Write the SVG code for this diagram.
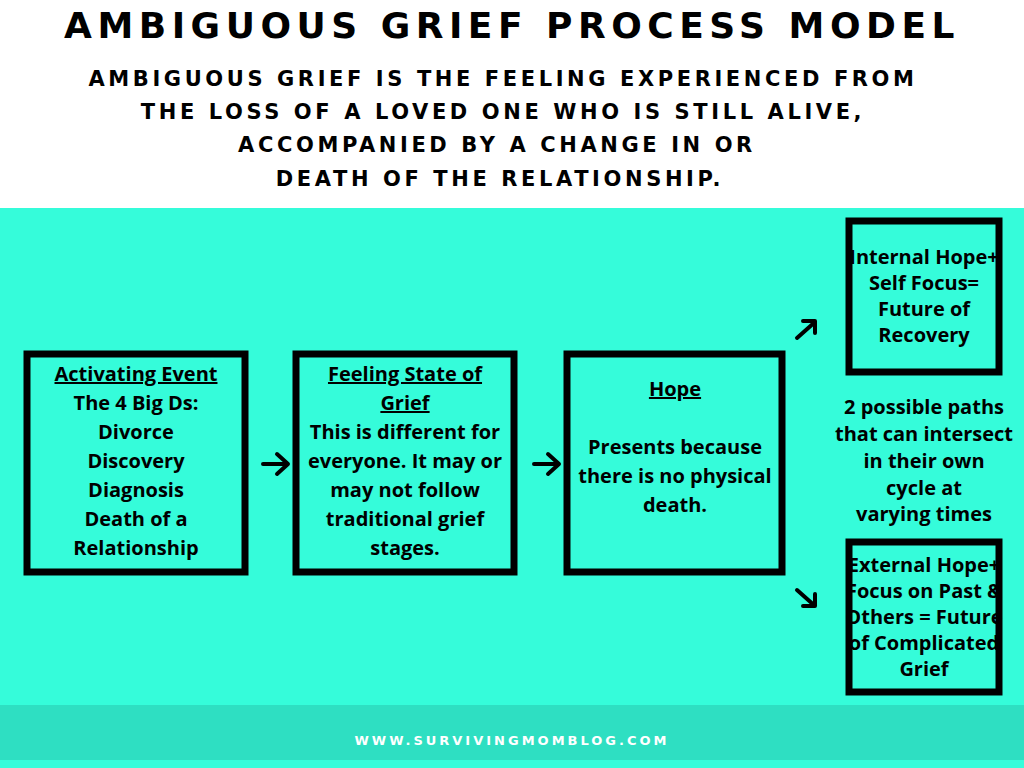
<svg xmlns="http://www.w3.org/2000/svg" width="1024" height="768" viewBox="0 0 1024 768">
<style>
.t{font-family:"DejaVu Sans","Liberation Sans",sans-serif;font-weight:bold;fill:#000;text-anchor:middle}
.b{font-family:"Open Sans","Liberation Sans",sans-serif;font-weight:bold;font-size:20px;fill:#000;text-anchor:middle}
.box{fill:none;stroke:#000;stroke-width:7}
.ar{fill:none;stroke:#000;stroke-width:4;stroke-linecap:round;stroke-linejoin:round}
</style>
<rect width="1024" height="768" fill="#fff"/>
<rect y="208" width="1024" height="497" fill="#35FCDA"/>
<rect y="705" width="1024" height="55" fill="#2EDFC2"/>
<rect y="760" width="1024" height="8" fill="#35FCDA"/>
<text class="t" x="512" y="38" font-size="36" letter-spacing="5.5">AMBIGUOUS GRIEF PROCESS MODEL</text>
<g class="t" font-size="21" letter-spacing="3.6">
<text x="503" y="86">AMBIGUOUS GRIEF IS THE FEELING EXPERIENCED FROM</text>
<text x="503" y="119">THE LOSS OF A LOVED ONE WHO IS STILL ALIVE,</text>
<text x="497" y="152">ACCOMPANIED BY A CHANGE IN OR</text>
<text x="500" y="186">DEATH OF THE RELATIONSHIP.</text>
</g>
<text class="t" x="512" y="745" font-size="13" letter-spacing="3" fill="#fff" style="fill:#fff">WWW.SURVIVINGMOMBLOG.COM</text>
<g id="node1"><rect class="box" x="27" y="354" width="218" height="218"/>
<text class="b" x="136" y="381" text-decoration="underline">Activating Event</text>
<text class="b" x="136" y="410">The 4 Big Ds:</text>
<text class="b" x="136" y="439">Divorce</text>
<text class="b" x="136" y="468">Discovery</text>
<text class="b" x="136" y="497">Diagnosis</text>
<text class="b" x="136" y="526">Death of a</text>
<text class="b" x="136" y="555">Relationship</text></g>
<g id="node2"><rect class="box" x="296" y="354" width="218" height="218"/>
<text class="b" x="405" y="381" text-decoration="underline">Feeling State of </text>
<text class="b" x="405" y="410" text-decoration="underline">Grief</text>
<text class="b" x="405" y="439">This is different for</text>
<text class="b" x="405" y="468">everyone. It may or</text>
<text class="b" x="405" y="497">may not follow</text>
<text class="b" x="405" y="526">traditional grief</text>
<text class="b" x="405" y="555">stages.</text></g>
<g id="node3"><rect class="box" x="567" y="354" width="215" height="218"/>
<text class="b" x="675" y="396" text-decoration="underline">Hope</text>
<text class="b" x="675" y="454">Presents because</text>
<text class="b" x="675" y="483">there is no physical</text>
<text class="b" x="675" y="512">death.</text></g>
<g id="node4"><rect class="box" x="849" y="221" width="150" height="151"/>
<text class="b" x="924" y="264" font-size="19">Internal Hope+</text>
<text class="b" x="924" y="290" font-size="19">Self Focus=</text>
<text class="b" x="924" y="316" font-size="19">Future of</text>
<text class="b" x="924" y="342" font-size="19">Recovery</text></g>
<g id="node5"><rect class="box" x="849" y="542" width="150" height="150"/>
<text class="b" x="924" y="572" font-size="19">External Hope+</text>
<text class="b" x="924" y="598" font-size="19">Focus on Past &amp;</text>
<text class="b" x="924" y="624" font-size="19">Others = Future</text>
<text class="b" x="924" y="650" font-size="19">of Complicated</text>
<text class="b" x="924" y="676" font-size="19">Grief</text></g>
<g id="label">
<text class="b" x="924" y="414" font-size="19">2 possible paths</text>
<text class="b" x="924" y="441" font-size="19">that can intersect</text>
<text class="b" x="924" y="468" font-size="19">in their own</text>
<text class="b" x="924" y="495" font-size="19">cycle at</text>
<text class="b" x="924" y="521" font-size="19">varying times</text></g>
<g id="connectors">
<path class="ar" d="M263 464H287M277 454L288 464L277 474"/>
<path class="ar" d="M534 464H558M548 454L559 464L548 474"/>
<path class="ar" d="M797 338L815 322M803 321H815V333"/>
<path class="ar" d="M797 590L815 606M815 594V606H803"/>
</g>
</svg>
